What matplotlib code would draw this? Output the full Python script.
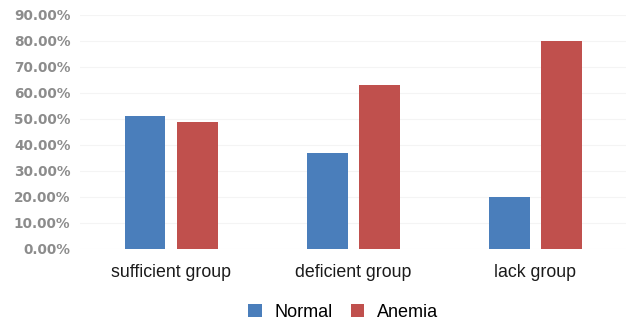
import matplotlib
matplotlib.use("Agg")
import matplotlib.pyplot as plt
import numpy as np
from matplotlib.ticker import PercentFormatter

categories = ["sufficient group", "deficient group", "lack group"]
normal = [0.512, 0.370, 0.200]
anemia = [0.488, 0.630, 0.800]
series_names = ["Normal", "Anemia"]
yticks = [0.0, 0.1, 0.2, 0.3, 0.4, 0.5, 0.6, 0.7, 0.8, 0.9]

BLUE = "#4a7ebb"
RED = "#c0504d"

plt.rcParams["font.family"] = ["Liberation Sans", "DejaVu Sans"]

fig = plt.figure(figsize=(6.3, 3.24), dpi=100)
ax = fig.add_axes([0.127, 0.2315, 0.867, 0.7225])

x = np.arange(len(categories))
width = 0.225
offset = 0.143
ax.bar(x - offset, normal, width, color=BLUE, label=series_names[0], zorder=3)
ax.bar(x + offset, anemia, width, color=RED, label=series_names[1], zorder=3)

ax.set_xlim(-0.5, 2.5)
ax.set_ylim(0, 0.9)
ax.set_yticks(yticks)
ax.yaxis.set_major_formatter(PercentFormatter(1.0, decimals=2))
ax.set_xticks(x)
ax.set_xticklabels(categories, fontsize=12.8, color="#1a1a1a")
for lab in ax.get_yticklabels():
    lab.set_family("DejaVu Sans")
    lab.set_fontweight("bold")
    lab.set_fontsize(9.8)
    lab.set_color("#8c8c8c")

ax.grid(axis="y", color="#f4f4f4", linewidth=0.8, zorder=0)
for s in ax.spines.values():
    s.set_visible(False)
ax.tick_params(axis="both", length=0)
ax.tick_params(axis="x", pad=11)
ax.tick_params(axis="y", pad=7)

fig.legend(loc="lower center", bbox_to_anchor=(0.545, -0.04), ncol=2, frameon=False,
           fontsize=13, handlelength=0.75, handleheight=0.75, columnspacing=1.0,
           handletextpad=0.7)

fig.savefig("out.png", dpi=100, facecolor="white")
